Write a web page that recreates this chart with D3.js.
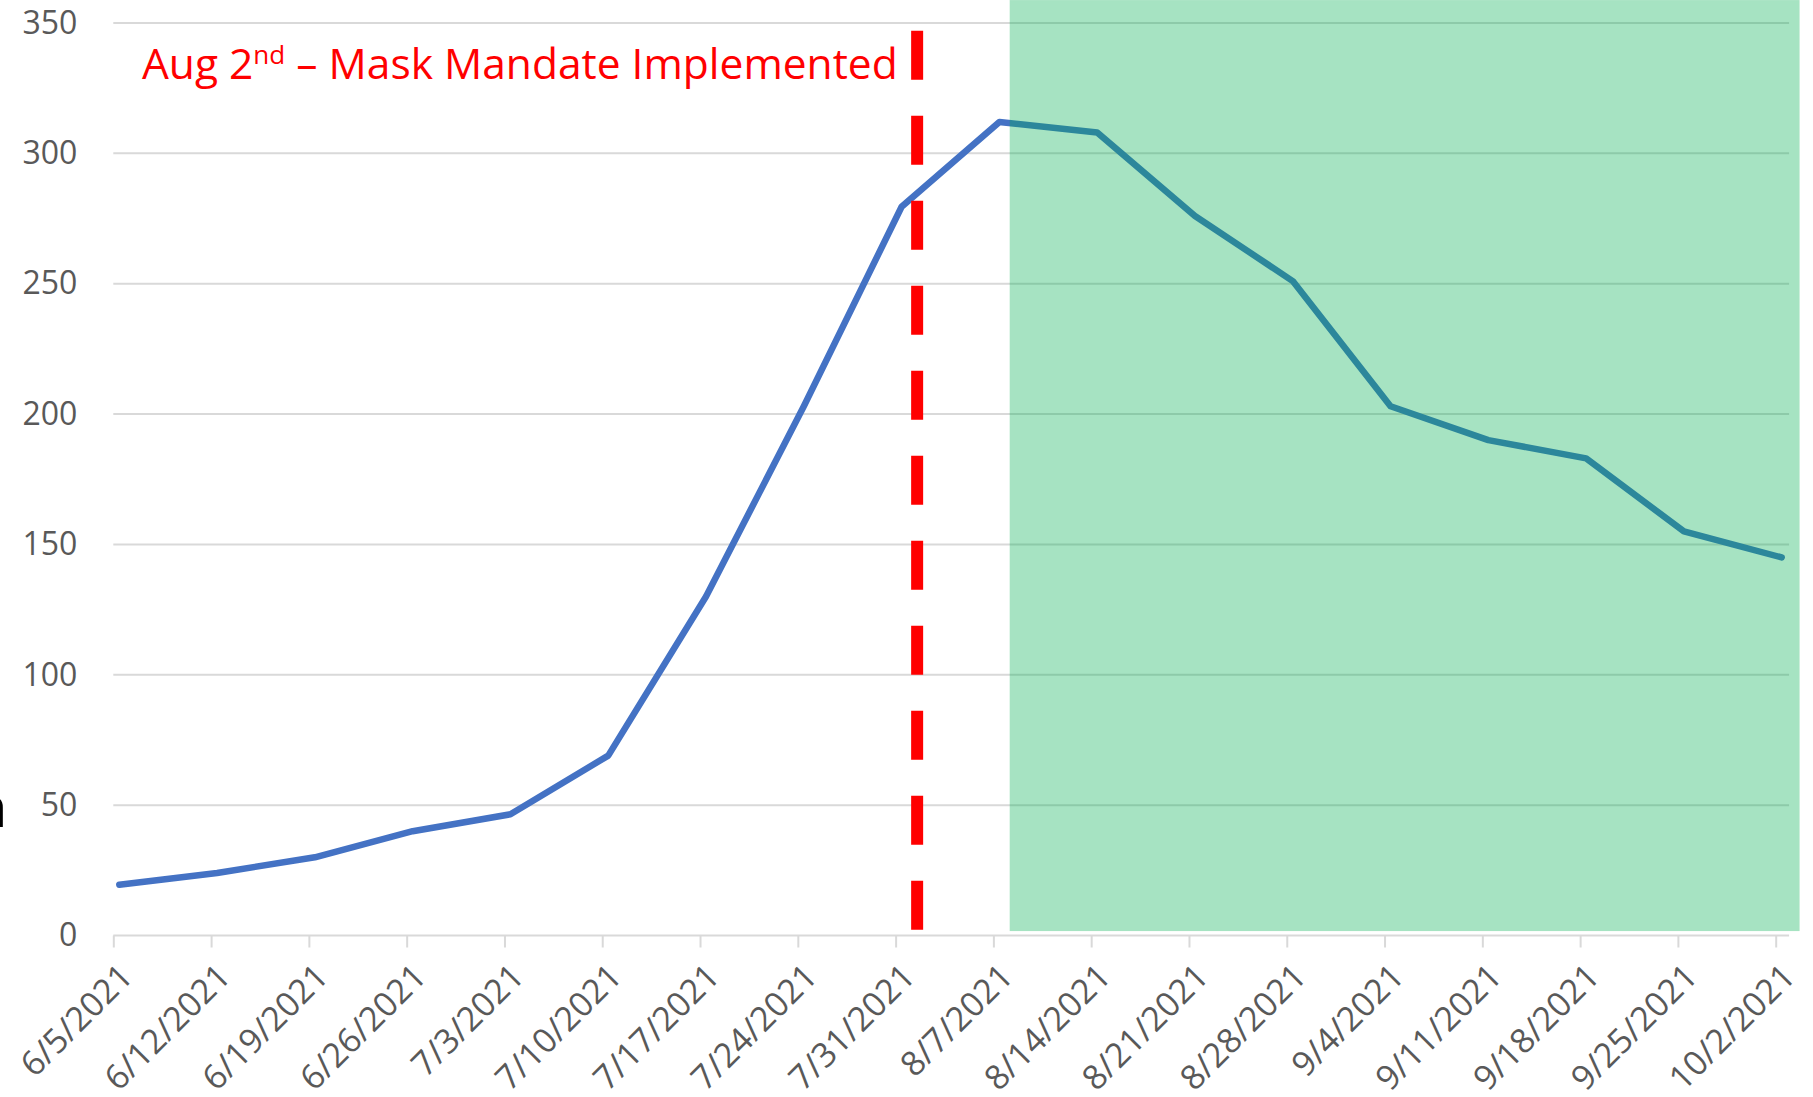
<!DOCTYPE html>
<html>
<head>
<meta charset="utf-8">
<script src="https://cdn.jsdelivr.net/npm/d3@7"></script>
<style>
  body { margin: 0; background: #fff; }
  svg { display: block; }
  text { font-family: "Open Sans", sans-serif; }
</style>
</head>
<body>
<div id="container"></div>
<script>
// weekly values
var dates = ["2021-06-05", "2021-06-12", "2021-06-19", "2021-06-26", "2021-07-03", "2021-07-10",
  "2021-07-17", "2021-07-24", "2021-07-31", "2021-08-07", "2021-08-14", "2021-08-21",
  "2021-08-28", "2021-09-04", "2021-09-11", "2021-09-18", "2021-09-25", "2021-10-02"];
var values = [19.5, 24, 30, 40, 46.5, 69, 130, 203, 279.5, 312, 308, 276, 251, 203, 190, 183, 155, 145];
var yTicks = [0, 50, 100, 150, 200, 250, 300, 350];

var mandateDate = "2021-08-01T13:00";   // the dashed marker
var shadeStart = "2021-08-08T04:00";    // green band
var shadeEnd = "2021-10-03T17:00";
var gridEnd = "2021-10-02T23:00";
var mandateLabel = "Aug 2";

var width = 1813, height = 1097;
var parse = d3.isoParse;
var fmt = d3.timeFormat("%-m/%-d/%Y");

var svg = d3.select("#container").append("svg")
  .attr("width", width)
  .attr("height", height);

var x = d3.scaleTime()
  .domain([parse(dates[0]), parse(dates[dates.length - 1])])
  .range([113.3, 1775.7]);
// excel draws the points a few px right of the tick marks
var xLine = x.copy().range([119.3, 1781.7]);

var y = d3.scaleLinear()
  .domain([0, 350])
  .range([935.5, 23]);

var data = dates.map(function(d, i) { return {date: parse(d), value: values[i]}; });

// gridlines
svg.append("g").attr("class", "grid")
  .selectAll("line")
  .data(yTicks)
  .enter().append("line")
  .attr("x1", x.range()[0])
  .attr("x2", x(parse(gridEnd)))
  .attr("y1", function(d) { return y(d); })
  .attr("y2", function(d) { return y(d); })
  .attr("stroke", "#d9d9d9")
  .attr("stroke-width", 2);

// y axis labels
var yAxis = svg.append("g")
  .attr("transform", "translate(" + x.range()[0] + ",0)")
  .call(d3.axisLeft(y).tickValues(yTicks).tickSize(0).tickPadding(36));
yAxis.select(".domain").remove();
yAxis.selectAll("text")
  .attr("fill", "#595959")
  .style("font-size", "32px")
  .style("font-family", "'Open Sans', sans-serif");

// x axis
var xAxis = svg.append("g")
  .attr("transform", "translate(0," + y(0) + ")")
  .call(d3.axisBottom(x).tickValues(data.map(function(d) { return d.date; }))
    .tickFormat(fmt).tickSize(12));
xAxis.select(".domain").remove();
xAxis.selectAll("line").attr("stroke", "#d9d9d9").attr("stroke-width", 2);
xAxis.selectAll("text")
  .attr("fill", "#595959")
  .attr("text-anchor", "end")
  .attr("dy", null)
  .attr("y", 0)
  .attr("transform", "translate(21,43) rotate(-45)")
  .style("font-size", "34px")
  .style("font-family", "'Open Sans', sans-serif");

// data line
var line = d3.line()
  .x(function(d) { return xLine(d.date); })
  .y(function(d) { return y(d.value); });

svg.append("path")
  .datum(data)
  .attr("d", line)
  .attr("fill", "none")
  .attr("stroke", "#4472c4")
  .attr("stroke-width", 6.5)
  .attr("stroke-linejoin", "round")
  .attr("stroke-linecap", "round");

// mandate marker
svg.append("line")
  .attr("x1", x(parse(mandateDate)))
  .attr("x2", x(parse(mandateDate)))
  .attr("y1", y(347))
  .attr("y2", y(1.7))
  .attr("stroke", "#ff0000")
  .attr("stroke-width", 12)
  .attr("stroke-dasharray", "49 36");

// shaded period
svg.append("rect")
  .attr("x", x(parse(shadeStart)))
  .attr("y", y(358.8))
  .attr("width", x(parse(shadeEnd)) - x(parse(shadeStart)))
  .attr("height", y(1.7) - y(358.8))
  .attr("fill", "#00b050")
  .attr("opacity", 0.35);

// annotation
var label = svg.append("text")
  .attr("x", 142)
  .attr("y", 79)
  .attr("fill", "#ff0000")
  .style("font-size", "42.5px");
label.append("tspan").text(mandateLabel);
label.append("tspan").text("nd").style("font-size", "26px").attr("dy", -15);
label.append("tspan").text(" \u2013 Mask Mandate Implemented").attr("dy", 15);

// clipped letter at the left edge
svg.append("text")
  .attr("x", 7)
  .attr("y", 827)
  .attr("text-anchor", "end")
  .attr("fill", "#000")
  .style("font-size", "56px")
  .style("font-weight", "bold")
  .text("n");
</script>
</body>
</html>
